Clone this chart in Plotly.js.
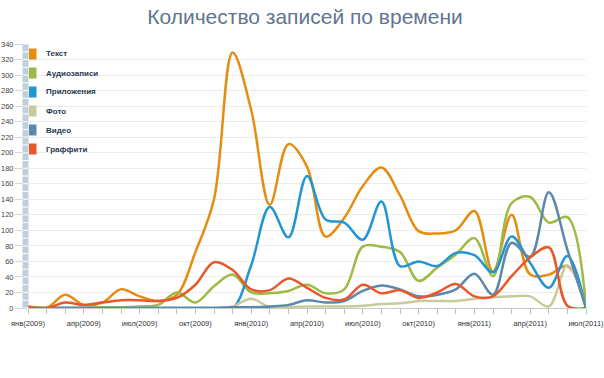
<!DOCTYPE html>
<html>
<head>
<meta charset="utf-8">
<script src="https://cdn.plot.ly/plotly-3.0.1.min.js"></script>
<style>html,body{margin:0;padding:0;background:#fff;}#chart{width:604px;height:378px;}</style>
</head>
<body>
<div id="chart"></div>
<script>
// Months (x categories)
const months = [
  "янв(2009)","фев(2009)","мар(2009)","апр(2009)","май(2009)","июн(2009)",
  "июл(2009)","авг(2009)","сен(2009)","окт(2009)","ноя(2009)","дек(2009)",
  "янв(2010)","фев(2010)","мар(2010)","апр(2010)","май(2010)","июн(2010)",
  "июл(2010)","авг(2010)","сен(2010)","окт(2010)","ноя(2010)","дек(2010)",
  "янв(2011)","фев(2011)","мар(2011)","апр(2011)","май(2011)","июн(2011)","июл(2011)"
];
// Quarterly tick labels shown on the axis
const tickLabels = ["янв(2009)","апр(2009)","июл(2009)","окт(2009)","янв(2010)","апр(2010)",
  "июл(2010)","окт(2010)","янв(2011)","апр(2011)","июл(2011)"];

const seriesNames = ["Текст","Аудиозаписи","Приложения","Фото","Видео","Граффити"];
const seriesColors = ["#E58D12","#9CBB45","#2196D3","#C9CA9C","#5B89AE","#E8582A"];

const textPosts  = [2,0,17,4,7,24,15,9,17,72,140,329,255,133,211,182,92,116,157,181,145,99,96,100,125,47,120,43,43,54,2];
const audioPosts = [0,0,0,0,1,1,2,4,20,7,28,43,20,19,22,30,19,24,79,79,72,35,52,69,90,41,135,143,110,117,2];
const appPosts   = [0,0,0,0,0,0,0,0,0,0,0,0,55,130,91,170,114,110,88,137,54,60,54,71,68,46,92,58,26,67,0];
const photoPosts = [0,0,0,0,0,0,0,0,0,0,0,2,12,1,1,2,2,2,3,5,6,9,9,9,12,14,15,15,2,55,0];
const videoPosts = [0,0,0,0,0,0,0,0,0,0,0,1,1,2,4,10,7,9,22,29,24,15,17,24,44,17,84,66,149,75,0];
const graffitiPosts = [2,0,7,4,7,10,10,9,13,30,59,49,24,23,38,26,13,11,30,19,23,13,20,31,15,15,41,65,78,3,0];

const allSeries = [textPosts,audioPosts,appPosts,photoPosts,videoPosts,graffitiPosts];

const traces = allSeries.map((vals,i)=>({
  x: months, y: vals, type:"scatter", mode:"lines", name: seriesNames[i],
  line:{color:seriesColors[i], width:2.5, shape:"spline", smoothing:1},
  showlegend:false, hoverinfo:"skip"
}));

// pixel helpers for decorations (plot area 28..586 x 44..308)
const L=28, R=18, T=44, B=70, W=604-L-R, H=378-T-B;
const px = p => (p-L)/W;
const py = p => (378-B-p)/H;

const shapes = [];
// decorative bar along the y axis
shapes.push({type:"rect", xref:"paper", yref:"paper", x0:px(22.5), x1:px(28.5), y0:0, y1:1,
  fillcolor:"#BFCFDC", line:{width:0}, layer:"above"});
for (let v=0; v<=340; v+=10) {
  shapes.push({type:"line", xref:"paper", yref:"y", x0:px(22.5), x1:px(28.5), y0:v, y1:v,
    line:{color:"#ffffff", width:1}, layer:"above"});
}
const annotations = [];
seriesNames.forEach((n,i)=>{
  const cy = 54 + 19*i;
  shapes.push({type:"rect", xref:"paper", yref:"paper", x0:px(29), x1:px(36.5), y0:py(cy+5.5), y1:py(cy-5.5),
    fillcolor:seriesColors[i], line:{width:0}, layer:"above"});
  annotations.push({xref:"paper", yref:"paper", x:px(43.5), y:py(cy), xanchor:"left", yanchor:"middle",
    text:"<b>"+n+"</b>", showarrow:false, font:{family:"Liberation Sans, Arial, sans-serif", size:8, color:"#2A3B4F"}});
});

const layout = {
  width:604, height:378,
  margin:{l:L, r:R, t:T, b:B},
  paper_bgcolor:"#ffffff", plot_bgcolor:"#ffffff",
  title:{text:"Количество записей по времени", x:0.505, xanchor:"center", y:0.955, yanchor:"middle",
    font:{family:"Liberation Sans, Arial, sans-serif", size:21, color:"#5F7590"}},
  xaxis:{type:"category", range:[0,30], tickvals:months,
    ticktext:months.map(m=>tickLabels.includes(m)?m:""),
    ticks:"outside", ticklen:5, tickcolor:"#bdbdbd", showgrid:false, showline:true, linecolor:"#c8c8c8",
    ticklabelstandoff:3,
    zeroline:false, tickangle:0, tickfont:{family:"Liberation Sans, Arial, sans-serif", size:7.5, color:"#333"}},
  yaxis:{range:[0,340], dtick:20, tick0:0, showgrid:true, gridcolor:"#ececec", zeroline:false, showline:false,
    ticks:"outside", ticklen:12, tickcolor:"#d5d5d5",
    tickfont:{family:"Liberation Sans, Arial, sans-serif", size:7.5, color:"#444"}},
  shapes:shapes, annotations:annotations, showlegend:false
};

Plotly.newPlot("chart", traces, layout, {displayModeBar:false, staticPlot:true});
</script>
</body>
</html>
